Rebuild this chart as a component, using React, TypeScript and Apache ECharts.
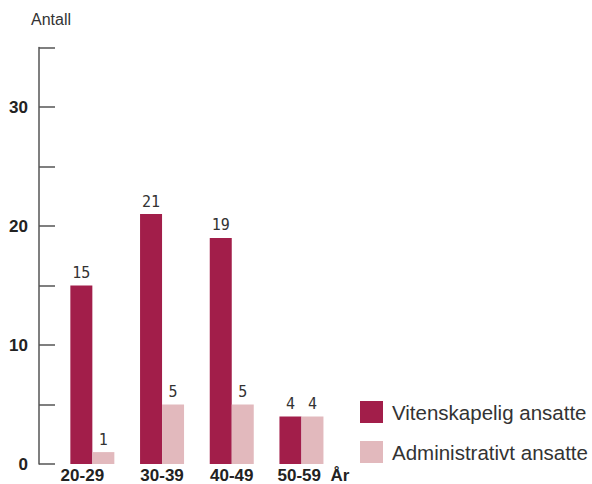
import React, { useEffect, useRef } from "react";
import * as echarts from "echarts";

const categories = ["20-29", "30-39", "40-49", "50-59"];
const vitenskapelig = [15, 21, 19, 4];
const administrativt = [1, 5, 5, 4];
const seriesNames = ["Vitenskapelig ansatte", "Administrativt ansatte"];
const yLabels = [0, 10, 20, 30];
const xUnit = "År";

export default function App() {
  const ref = useRef<HTMLDivElement>(null);
  useEffect(() => {
    if (!ref.current) return;
    const chart = echarts.init(ref.current, undefined, { renderer: "svg" });
    const font = "'Liberation Sans', Arial, sans-serif";
    const valueLabel = {
      show: true,
      position: "top" as const,
      distance: 5,
      fontFamily: "'DejaVu Sans Mono', monospace",
      fontSize: 15,
      color: "#333",
    };
    const last = categories.length - 1;
    chart.setOption({
      animation: false,
      textStyle: { fontFamily: font },
      grid: { left: 57.5, width: 278.8, top: 47.5, bottom: 20, outerBoundsMode: "none", containLabel: false },
      xAxis: {
        type: "category",
        data: categories.map((c, i) =>
          i === 0
            ? { value: c, textStyle: { padding: [0, 20, 0, 0] } }
            : i === last
            ? { value: c, textStyle: { padding: [0, 0, 0, 24] } }
            : c
        ),
        axisLine: { show: false },
        axisTick: { show: false },
        axisLabel: {
          interval: 0,
          hideOverlap: false,
          fontSize: 17,
          lineHeight: 15,
          fontWeight: "bold",
          color: "#222",
          margin: 4,
          fontFamily: font,
          formatter: (v: string, i: number) => (i === last ? v + "  " + xUnit : v),
        },
      },
      yAxis: {
        type: "value",
        min: 0,
        max: 35,
        interval: 5,
        offset: 18.5,
        name: "Antall",
        nameLocation: "end",
        nameGap: 20,
        nameTextStyle: { fontSize: 16, color: "#333", fontFamily: font, align: "center", padding: [0, 0, 0, 24] },
        splitLine: { show: false },
        axisLine: { show: true, lineStyle: { color: "#555", width: 1.5 } },
        axisTick: { show: true, inside: true, length: 16, lineStyle: { color: "#555", width: 1.5 } },
        axisLabel: {
          margin: 11,
          fontSize: 17,
          fontWeight: "bold",
          color: "#222",
          fontFamily: font,
          formatter: (v: number) => (yLabels.includes(v) ? String(v) : ""),
        },
      },
      legend: {
        orient: "vertical",
        left: 355,
        top: 396,
        itemWidth: 23,
        itemHeight: 22,
        itemGap: 18,
        icon: "rect",
        data: seriesNames,
        textStyle: { fontSize: 20.5, color: "#333", fontFamily: font, padding: [0, 0, 0, 4] },
      },
      series: [
        {
          name: seriesNames[0],
          type: "bar",
          data: vitenskapelig,
          barWidth: 22,
          barGap: "0%",
          itemStyle: { color: "#a21e4a" },
          label: valueLabel,
        },
        {
          name: seriesNames[1],
          type: "bar",
          data: administrativt,
          barWidth: 22,
          itemStyle: { color: "#e2b9bd" },
          label: valueLabel,
        },
      ],
    });
    return () => chart.dispose();
  }, []);
  return (
    <div
      ref={ref}
      style={{ position: "fixed", left: 0, top: 0, width: 592, height: 484, background: "#fff" }}
    />
  );
}
